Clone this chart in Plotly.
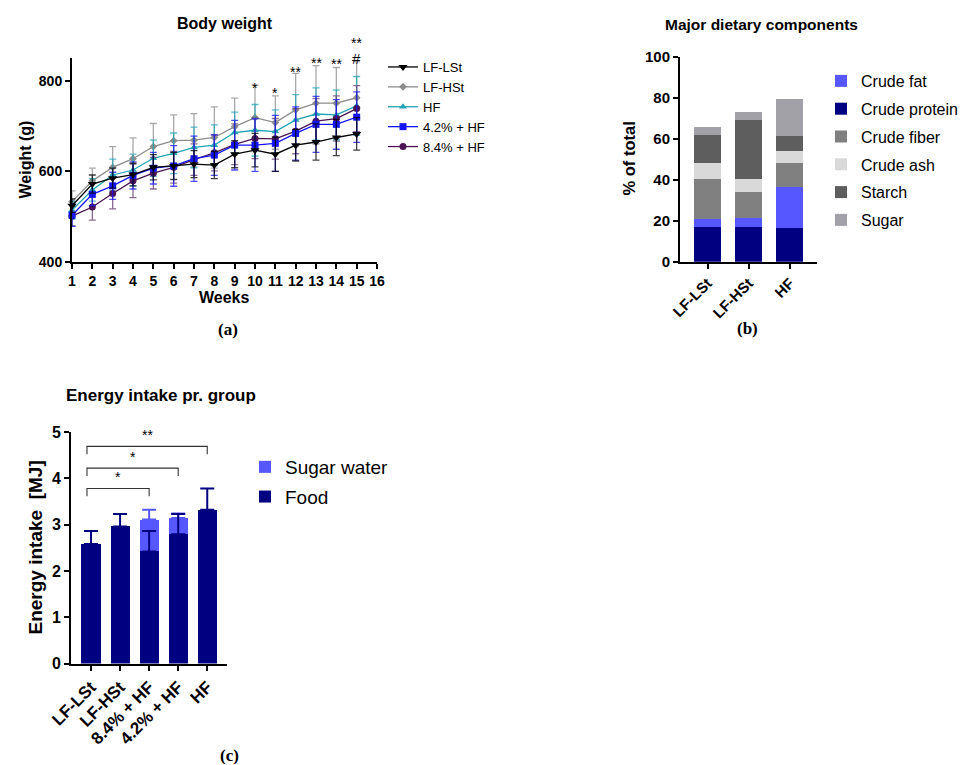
import plotly.graph_objects as go

W, H = 970, 765

# ---------------- Data: panel (a) Body weight ----------------
weeks = list(range(1, 16))
series_names = ["LF-LSt", "LF-HSt", "HF", "4.2% + HF", "8.4% + HF"]
w_lf_lst = [524, 572, 585, 593, 609, 612, 616, 614, 638, 647, 638, 658, 665, 675, 683]
w_lf_hst = [533, 579, 609, 628, 655, 668, 669, 675, 699, 719, 708, 736, 751, 751, 763]
w_hf = [514, 559, 592, 603, 629, 640, 653, 658, 686, 691, 688, 714, 727, 725, 745]
w_hf42 = [503, 549, 568, 591, 607, 612, 628, 636, 658, 658, 662, 684, 704, 704, 720]
w_hf84 = [501, 521, 551, 579, 596, 609, 626, 641, 660, 673, 672, 689, 711, 717, 739]
sd_lf_lst = [15, 20, 22, 25, 28, 30, 30, 30, 30, 37, 38, 35, 40, 40, 36]
sd_lf_hst = [24, 28, 46, 46, 51, 57, 59, 68, 63, 72, 59, 81, 83, 79, 80]
sd_hf = [20, 25, 35, 35, 40, 45, 45, 45, 45, 57, 48, 56, 58, 55, 65]
sd_hf42 = [25, 25, 30, 30, 35, 45, 50, 45, 55, 58, 62, 59, 62, 55, 56]
sd_hf84 = [22, 29, 34, 37, 35, 35, 35, 40, 45, 45, 45, 50, 50, 50, 51]
sig_weeks = [10, 11, 12, 13, 14, 15]
sig_labels = ["*", "*", "**", "**", "**", "**"]
sig_y = [807, 796, 842, 862, 860, 906]
hash_week = 15
hash_y = 873

# ---------------- Data: panel (b) Major dietary components ----------------
diets = ["LF-LSt", "LF-HSt", "HF"]
comp_names = ["Crude protein", "Crude fat", "Crude fiber", "Crude ash", "Starch", "Sugar"]
crude_protein = [17.1, 17.1, 16.6]
crude_fat = [3.7, 4.4, 20.0]
crude_fiber = [19.9, 12.6, 11.7]
crude_ash = [7.8, 6.6, 5.7]
starch = [13.5, 28.6, 7.5]
sugar = [4.0, 3.7, 17.8]

# ---------------- Data: panel (c) Energy intake ----------------
groups = ["LF-LSt", "LF-HSt", "8.4% + HF", "4.2% + HF", "HF"]
food = [2.58, 2.96, 2.42, 2.79, 3.32]
food_err = [0.28, 0.27, 0.44, 0.44, 0.46]
sugar_water = [None, None, 0.69, 0.35, None]
sugar_err = [None, None, 0.21, 0.10, None]
brackets = [(0, 4, 4.69, "**"), (0, 3, 4.22, "*"), (0, 2, 3.78, "*")]

FONT = "Liberation Sans"
SERIF = "Liberation Serif"
YA_RANGE = [400, 851]


def px_x(p):
    return p / W


def px_y(p):
    return 1 - p / H


fig = go.Figure()

# ---------- panel (a) ----------
styles = [
    (w_lf_lst, sd_lf_lst, "#000000", "rgba(0,0,0,0.75)", "triangle-down", 8),
    (w_lf_hst, sd_lf_hst, "#8c8c8c", "rgba(140,140,140,0.75)", "diamond", 6),
    (w_hf, sd_hf, "#22a3b5", "rgba(34,163,181,0.75)", "triangle-up", 7),
    (w_hf42, sd_hf42, "#1414f5", "rgba(20,20,245,0.75)", "square", 7),
    (w_hf84, sd_hf84, "#4a1552", "rgba(110,70,120,0.8)", "circle", 7),
]
draw_order = [1, 2, 4, 3, 0]
for i in draw_order:
    vals, sds, col, ecol, sym, ms = styles[i]
    fig.add_trace(go.Scatter(
        x=weeks, y=vals, name=series_names[i], mode="lines+markers",
        line=dict(color=col, width=1.3),
        marker=dict(symbol=sym, size=ms, color=col),
        error_y=dict(type="data", array=sds, visible=True, color=ecol, thickness=1.3, width=3.5),
        xaxis="x", yaxis="y", legend="legend", legendrank=i + 1, cliponaxis=False,
    ))

# ---------- panel (b) ----------
comp_vals = [crude_protein, crude_fat, crude_fiber, crude_ash, starch, sugar]
comp_cols = ["#000080", "#5757ff", "#808080", "#d9d9d9", "#5e5e5e", "#a1a1a7"]
comp_rank = [2, 1, 3, 4, 5, 6]
for name, vals, col, rk in zip(comp_names, comp_vals, comp_cols, comp_rank):
    fig.add_trace(go.Bar(
        x=diets, y=vals, name=name, marker=dict(color=col, line=dict(width=0)),
        width=0.66, xaxis="x2", yaxis="y2", legend="legend2", legendrank=rk,
        legendgroup=name,
    ))

# ---------- panel (c) ----------
fig.add_trace(go.Bar(
    x=groups, y=food, name="Food", marker=dict(color="#000080", line=dict(width=0)),
    width=0.66, xaxis="x3", yaxis="y3", legend="legend3", legendrank=2, legendgroup="food",
))
fig.add_trace(go.Bar(
    x=groups, y=sugar_water, name="Sugar water", marker=dict(color="#5757ff", line=dict(width=0)),
    width=0.66, xaxis="x3", yaxis="y3", legend="legend3", legendrank=1, legendgroup="sugar",
))
totals = [f + s if s is not None else None for f, s in zip(food, sugar_water)]
fig.add_trace(go.Scatter(
    x=groups, y=totals, mode="markers", marker=dict(size=1, color="rgba(0,0,0,0)"),
    error_y=dict(type="data", symmetric=False, array=sugar_err, arrayminus=[0] * 5,
                 color="#5757ff", thickness=2, width=7),
    xaxis="x3", yaxis="y3", showlegend=False, hoverinfo="skip", cliponaxis=False,
))
fig.add_trace(go.Scatter(
    x=groups, y=food, mode="markers", marker=dict(size=1, color="rgba(0,0,0,0)"),
    error_y=dict(type="data", symmetric=False, array=food_err, arrayminus=[0] * 5,
                 color="#000080", thickness=2, width=7),
    xaxis="x3", yaxis="y3", showlegend=False, hoverinfo="skip", cliponaxis=False,
))

shapes = []
annotations = []
for i0, i1, yb, lab in brackets:
    xl = i0 - 0.14
    shapes.append(dict(type="path", xref="x3", yref="y3",
                       path=f"M {xl},{yb - 0.17} L {xl},{yb} L {i1},{yb} L {i1},{yb - 0.17}",
                       line=dict(color="#333333", width=1.1)))
    annotations.append(dict(x=(xl + i1) / 2, y=yb, xref="x3", yref="y3", text=lab,
                            showarrow=False, yanchor="bottom", yshift=1,
                            font=dict(family=FONT, size=14, color="black")))


def ya_frac(v):
    return (v - YA_RANGE[0]) / (YA_RANGE[1] - YA_RANGE[0])


for wk, lab, yy in zip(sig_weeks, sig_labels, sig_y):
    annotations.append(dict(x=wk, y=ya_frac(yy), xref="x", yref="y domain", text=lab,
                            showarrow=False, font=dict(family=FONT, size=14, color="black")))
annotations.append(dict(x=hash_week, y=ya_frac(hash_y), xref="x", yref="y domain", text="#",
                        showarrow=False, font=dict(family=FONT, size=15, color="black")))


def ann(x, y, text, size, bold=True, family=FONT, angle=0):
    annotations.append(dict(x=px_x(x), y=px_y(y), xref="paper", yref="paper", text=text,
                            showarrow=False, textangle=angle, xanchor="center", yanchor="middle",
                            font=dict(family=family, size=size, color="black",
                                      weight="bold" if bold else "normal")))


ann(224.5, 23, "Body weight", 16)
ann(761, 25, "Major dietary components", 15.5)
ann(161, 395, "Energy intake pr. group", 17)
ann(224, 298, "Weeks", 16)
ann(25, 159.5, "Weight (g)", 16, angle=-90)
ann(628.5, 159, "% of total", 16.5, angle=-90)
ann(34.5, 548, "Energy intake  [MJ]", 19, angle=-90)
ann(228, 329, "(a)", 17, family=SERIF)
ann(747, 328, "(b)", 17, family=SERIF)
ann(229, 755, "(c)", 17, family=SERIF)

axis_common = dict(showline=True, linecolor="black", linewidth=2, ticks="outside",
                   tickcolor="black", tickwidth=2, ticklen=5, showgrid=False, zeroline=False,
                   automargin=False)

fig.update_layout(
    template="none",
    width=W, height=H, margin=dict(l=0, r=0, t=0, b=0, pad=0, autoexpand=False),
    paper_bgcolor="white", plot_bgcolor="white", barmode="stack", bargap=0,
    font=dict(family=FONT, color="black"),
    showlegend=True,
    shapes=shapes, annotations=annotations,
    xaxis=dict(domain=[px_x(72), px_x(377)], range=[1, 16], tickvals=list(range(1, 17)),
               anchor="y", tickfont=dict(size=14, weight="bold"), **axis_common),
    yaxis=dict(domain=[px_y(261.7), px_y(58)], range=YA_RANGE, tickvals=[400, 600, 800],
               anchor="x", tickfont=dict(size=14, weight="bold"), **axis_common),
    xaxis2=dict(domain=[px_x(680), px_x(817)], range=[-0.67, 2.66], anchor="y2",
                tickangle=-45, tickfont=dict(size=15, weight="bold"), **axis_common),
    yaxis2=dict(domain=[px_y(261.7), px_y(56.7)], range=[0, 100], dtick=20, anchor="x2",
                tickfont=dict(size=15, weight="bold"), **axis_common),
    xaxis3=dict(domain=[px_x(71), px_x(227)], range=[-0.69, 4.68], anchor="y3",
                tickangle=-45, tickfont=dict(size=17, weight="bold"), **axis_common),
    yaxis3=dict(domain=[px_y(663.5), px_y(432)], range=[0, 5], dtick=1, anchor="x3",
                tickfont=dict(size=16, weight="bold"), **axis_common),
    legend=dict(x=px_x(383), y=px_y(52), xanchor="left", yanchor="top",
                font=dict(size=13, family=FONT), bgcolor="rgba(0,0,0,0)", traceorder="normal"),
    legend2=dict(x=px_x(821), y=px_y(64), xanchor="left", yanchor="top",
                 font=dict(size=16, family=FONT), bgcolor="rgba(0,0,0,0)", tracegroupgap=4),
    legend3=dict(x=px_x(245), y=px_y(448), xanchor="left", yanchor="top",
                 font=dict(size=19, family=FONT), bgcolor="rgba(0,0,0,0)", tracegroupgap=2),
)

fig.write_html("out.html", config={"displayModeBar": False},
               post_script="document.body.style.margin='0px';")
